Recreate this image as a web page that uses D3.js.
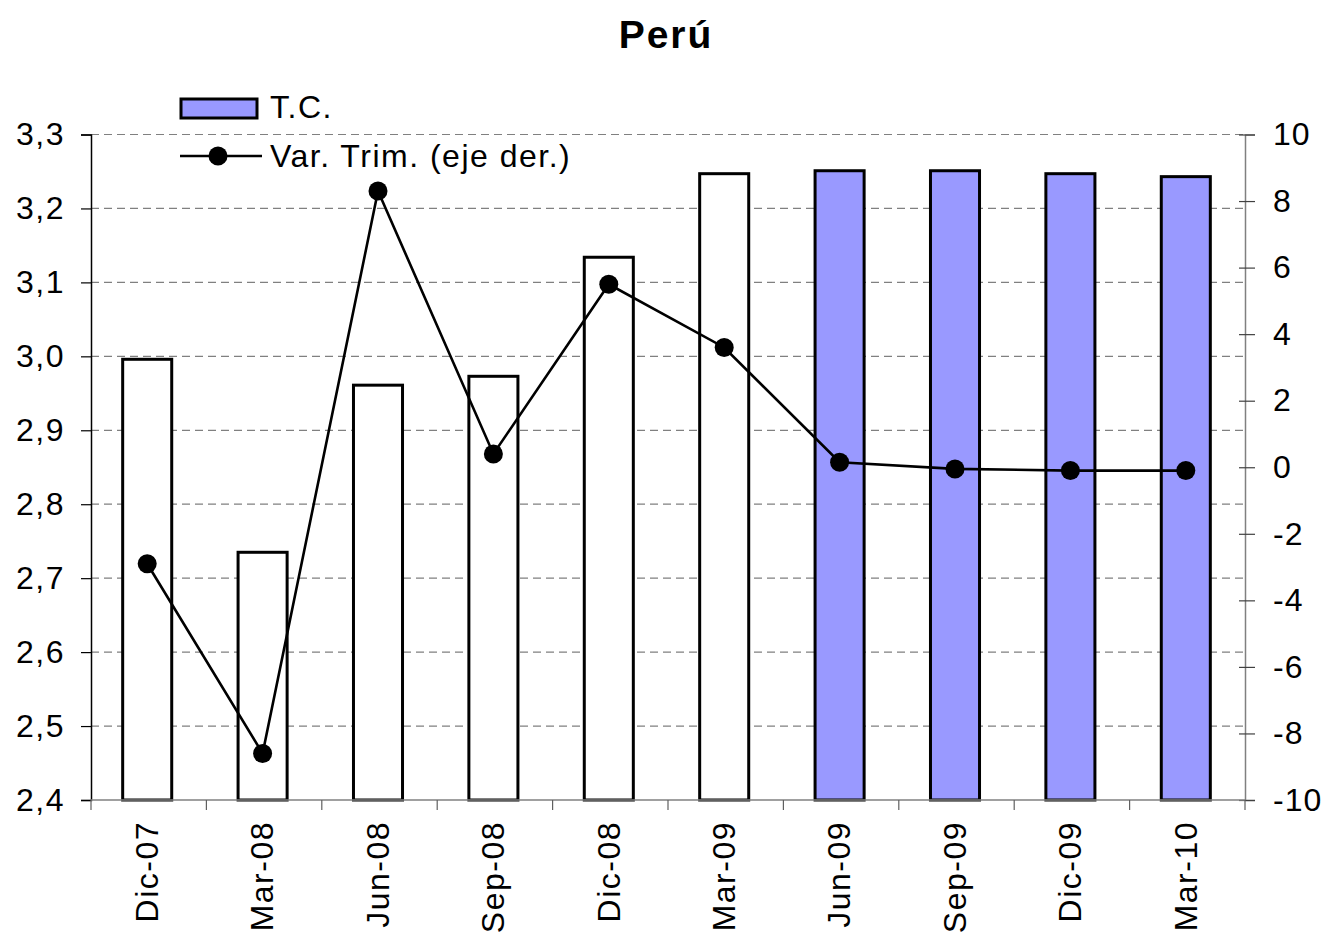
<!DOCTYPE html>
<html>
<head>
<meta charset="utf-8">
<script src="https://cdn.jsdelivr.net/npm/d3@7/dist/d3.min.js"></script>
<style>
  html, body { margin: 0; padding: 0; background: #fff; }
  svg { display: block; font-family: "Liberation Sans", Arial, sans-serif; }
</style>
</head>
<body>
<svg id="chart" width="1323" height="935"></svg>
<script>
// Quarterly exchange rate (T.C.) and its quarter-on-quarter % change
const categories = ["Dic-07", "Mar-08", "Jun-08", "Sep-08", "Dic-08", "Mar-09", "Jun-09", "Sep-09", "Dic-09", "Mar-10"];
const tcValues   = [2.996, 2.735, 2.961, 2.973, 3.134, 3.247, 3.251, 3.251, 3.247, 3.243];
const varTrim    = [-2.9, -8.6, 8.3, 0.4, 5.5, 3.6, 0.15, -0.05, -0.1, -0.1];
const projected  = [false, false, false, false, false, false, true, true, true, true];
const leftTicks  = [2.4, 2.5, 2.6, 2.7, 2.8, 2.9, 3.0, 3.1, 3.2, 3.3];
const rightTicks = [-10, -8, -6, -4, -2, 0, 2, 4, 6, 8, 10];

const svg = d3.select("#chart");
const plotLeft = 91, plotRight = 1245, plotTop = 134.5, plotBottom = 800;
const fontSize = 32;
const spacing = "1.5px";

const x = d3.scaleBand().domain(categories).range([plotLeft, plotRight])
  .paddingInner(0.575).paddingOuter(0.2875);
const yL = d3.scaleLinear().domain([2.4, 3.3]).range([plotBottom, plotTop]);
const yR = d3.scaleLinear().domain([-10, 10]).range([plotBottom, plotTop]);
const fmtL = d => d3.format(".1f")(d).replace(".", ",");
const fmtR = d => String(d);

// Title
svg.append("text").attr("x", 666).attr("y", 48).attr("text-anchor", "middle")
  .attr("font-size", 39).attr("font-weight", "bold").attr("letter-spacing", "2px").text("Perú");

// Horizontal dashed gridlines
svg.append("g").selectAll("line").data(leftTicks.slice(1)).join("line")
  .attr("x1", plotLeft).attr("x2", plotRight)
  .attr("y1", d => yL(d)).attr("y2", d => yL(d))
  .attr("stroke", "#808080").attr("stroke-width", 1.2).attr("stroke-dasharray", "8,5");

// Bars
svg.append("g").selectAll("rect").data(categories).join("rect")
  .attr("x", d => x(d) - 1.5)
  .attr("width", x.bandwidth())
  .attr("y", (d, i) => yL(tcValues[i]))
  .attr("height", (d, i) => plotBottom - yL(tcValues[i]))
  .attr("fill", (d, i) => projected[i] ? "#9999FF" : "#FFFFFF")
  .attr("stroke", "#000").attr("stroke-width", 3);

// Left axis
const gL = svg.append("g").attr("transform", `translate(${plotLeft},0)`)
  .call(d3.axisLeft(yL).tickValues(leftTicks).tickFormat(fmtL).tickSize(10).tickPadding(16));
gL.select(".domain").attr("stroke", "#000").attr("stroke-width", 1.5);
gL.selectAll(".tick line").attr("stroke", "#000").attr("stroke-width", 1.2);
gL.selectAll(".tick text").attr("font-size", fontSize).attr("letter-spacing", spacing)
  .attr("font-family", "Liberation Sans, Arial, sans-serif").attr("fill", "#000");

// Right axis (ticks cross the axis line)
const gR = svg.append("g").attr("transform", `translate(${plotRight},0)`)
  .call(d3.axisRight(yR).tickValues(rightTicks).tickFormat(fmtR).tickSize(10).tickPadding(18));
gR.select(".domain").attr("stroke", "#808080").attr("stroke-width", 1.5);
gR.selectAll(".tick line").attr("x1", -6).attr("stroke", "#404040").attr("stroke-width", 1.2);
gR.selectAll(".tick text").attr("font-size", fontSize).attr("letter-spacing", "1px")
  .attr("font-family", "Liberation Sans, Arial, sans-serif").attr("fill", "#000");

// Bottom axis: ticks at category boundaries
const bounds = categories.map(c => x(c) - x.step() * x.paddingInner() / 2).concat([plotRight]);
svg.append("line").attr("x1", plotLeft).attr("x2", plotRight).attr("y1", plotBottom).attr("y2", plotBottom)
  .attr("stroke", "#808080").attr("stroke-width", 1.5);
svg.append("g").selectAll("line").data(bounds).join("line")
  .attr("x1", d => d).attr("x2", d => d).attr("y1", plotBottom).attr("y2", plotBottom + 10)
  .attr("stroke", "#606060").attr("stroke-width", 1.2);
svg.append("g").selectAll("text").data(categories).join("text")
  .attr("transform", d => `translate(${x(d) + x.bandwidth() / 2 - 1.5},821) rotate(-90)`)
  .attr("text-anchor", "end").attr("dy", "0.34em").attr("letter-spacing", spacing)
  .attr("font-size", fontSize).text(d => d);

// Quarterly variation line (right axis)
const cx = (d, i) => x(categories[i]) + x.bandwidth() / 2 - 1.5;
const line = d3.line().x((d, i) => cx(d, i)).y(d => yR(d));
svg.append("path").datum(varTrim).attr("d", line)
  .attr("fill", "none").attr("stroke", "#000").attr("stroke-width", 2.6);
svg.append("g").selectAll("circle").data(varTrim).join("circle")
  .attr("cx", cx).attr("cy", d => yR(d)).attr("r", 9.5).attr("fill", "#000");

// Legend
const lg = svg.append("g");
lg.append("rect").attr("x", 181).attr("y", 99).attr("width", 76).attr("height", 19)
  .attr("fill", "#9999FF").attr("stroke", "#000").attr("stroke-width", 3);
lg.append("text").attr("x", 270).attr("y", 118).attr("font-size", fontSize)
  .attr("letter-spacing", spacing).text("T.C.");
lg.append("line").attr("x1", 180).attr("x2", 262).attr("y1", 156).attr("y2", 156)
  .attr("stroke", "#000").attr("stroke-width", 2.6);
lg.append("circle").attr("cx", 218).attr("cy", 156).attr("r", 9.5).attr("fill", "#000");
lg.append("text").attr("x", 270).attr("y", 167).attr("font-size", fontSize)
  .attr("letter-spacing", spacing).text("Var. Trim. (eje der.)");
</script>
</body>
</html>
